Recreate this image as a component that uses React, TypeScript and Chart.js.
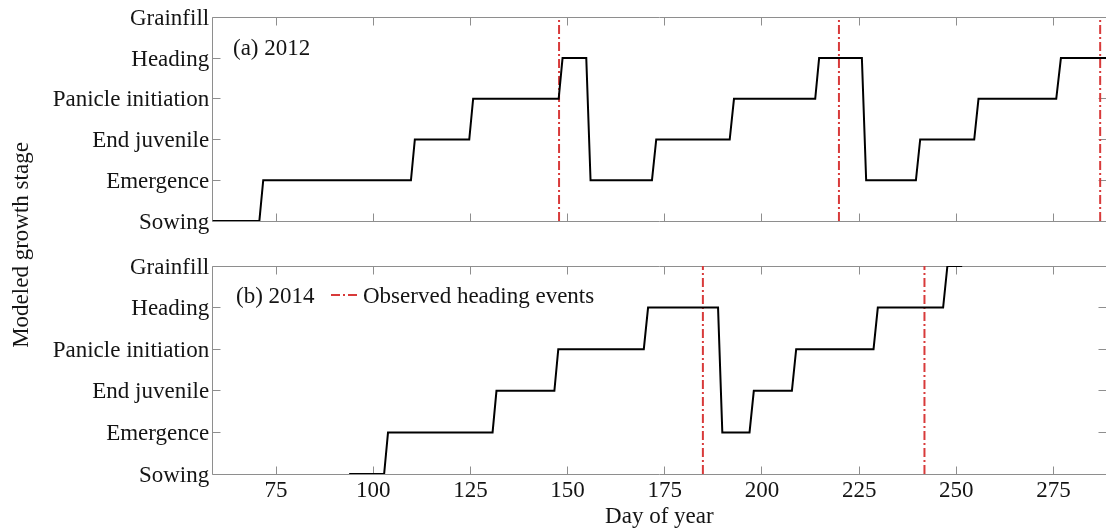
import React, { useEffect, useRef } from "react";
import { Chart, registerables } from "chart.js";

Chart.register(...registerables);

// Growth stage names, bottom to top
const stageLabels = ["Sowing", "Emergence", "End juvenile", "Panicle initiation", "Heading", "Grainfill"];
const xTickValues = [75, 100, 125, 150, 175, 200, 225, 250, 275];

// 2012 modeled stage trajectory (corner points of the stepped line)
const days2012 = [55, 70.7, 71.7, 109.7, 110.7, 124.7, 125.7, 147.7, 148.7, 154.8, 155.9, 171.7, 172.8, 191.7, 192.8, 213.7, 214.7, 225.7, 226.8, 239.6, 240.7, 254.6, 255.7, 275.7, 276.9, 292];
const stages2012 = [0, 0, 1, 1, 2, 2, 3, 3, 4, 4, 1, 1, 2, 2, 3, 3, 4, 4, 1, 1, 2, 2, 3, 3, 4, 4];
const observedHeading2012 = [147.8, 219.8, 287.0];

// 2014 modeled stage trajectory
const days2014 = [93.8, 102.8, 103.8, 130.7, 131.7, 146.6, 147.6, 169.6, 170.7, 188.7, 189.8, 196.8, 197.9, 207.7, 208.8, 228.7, 229.8, 246.6, 247.7, 251.5];
const stages2014 = [0, 0, 1, 1, 2, 2, 3, 3, 4, 4, 1, 1, 2, 2, 3, 3, 4, 4, 5, 5];
const observedHeading2014 = [184.8, 241.8];

const X_MIN = 58.7;
const X_MAX = 288.5;
const W = 1106;
const H = 532;
const FONT_FAMILY = "'Liberation Serif', 'Times New Roman', serif";
const FONT_SIZE = 23;
const TEXT = "#141414";
const AXIS = "#8e8e8e";
const RED = "#d83a3a";
const DASH_DOT = [9, 3, 2, 3];
const TICK_LEN = 8;

const toPoints = (xs: number[], ys: number[]) => xs.map((x, i) => ({ x, y: ys[i] }));

function buildDatasets(days: number[], stages: number[], heading: number[]) {
  const sets: any[] = [
    {
      data: toPoints(days, stages),
      borderColor: "#000",
      borderWidth: 2,
      pointRadius: 0,
      tension: 0,
      fill: false,
    },
  ];
  heading.forEach((d) => {
    sets.push({
      data: [
        { x: d, y: 0 },
        { x: d, y: stageLabels.length - 1 },
      ],
      borderColor: RED,
      borderWidth: 2,
      borderDash: DASH_DOT,
      pointRadius: 0,
      fill: false,
    });
  });
  return sets;
}

// Box around the panel with inward tick marks on all four sides
const framePlugin = {
  id: "frame",
  beforeDatasetsDraw(chart: any) {
    const { ctx, chartArea: a, scales } = chart;
    const xs = scales.x;
    const ys = scales.y;
    const L = Math.floor(a.left) + 0.5;
    const R = Math.floor(a.right) + 0.5;
    const T = Math.floor(a.top) + 0.5;
    const B = Math.floor(a.bottom) + 0.5;
    ctx.save();
    ctx.strokeStyle = AXIS;
    ctx.lineWidth = 1;
    ctx.beginPath();
    ctx.moveTo(R, T);
    ctx.lineTo(L, T);
    ctx.lineTo(L, B);
    ctx.lineTo(R, B);
    ctx.lineTo(R, T);
    xTickValues.forEach((v) => {
      const px = Math.floor(xs.getPixelForValue(v)) + 0.5;
      ctx.moveTo(px, T);
      ctx.lineTo(px, T + TICK_LEN);
      ctx.moveTo(px, B);
      ctx.lineTo(px, B - TICK_LEN);
    });
    stageLabels.forEach((_, i) => {
      const py = Math.floor(ys.getPixelForValue(i)) + 0.5;
      ctx.moveTo(L, py);
      ctx.lineTo(L + TICK_LEN, py);
      ctx.moveTo(R, py);
      ctx.lineTo(R - TICK_LEN, py);
    });
    ctx.stroke();
    ctx.restore();
  },
};

function font() {
  return `${FONT_SIZE}px ${FONT_FAMILY}`;
}

const panelA = {
  id: "panelA",
  afterDraw(chart: any) {
    const { ctx } = chart;
    ctx.save();
    ctx.font = font();
    ctx.fillStyle = TEXT;
    ctx.textBaseline = "alphabetic";
    ctx.textAlign = "left";
    ctx.fillText("(a) 2012", 233, 55);
    ctx.restore();
  },
};

const panelB = {
  id: "panelB",
  afterDraw(chart: any) {
    const { ctx } = chart;
    ctx.save();
    ctx.font = font();
    ctx.fillStyle = TEXT;
    ctx.textBaseline = "alphabetic";
    ctx.textAlign = "left";
    ctx.fillText("(b) 2014", 236, 303);
    // legend entry
    ctx.strokeStyle = RED;
    ctx.lineWidth = 2;
    ctx.setLineDash(DASH_DOT);
    ctx.beginPath();
    ctx.moveTo(331, 295);
    ctx.lineTo(359, 295);
    ctx.stroke();
    ctx.setLineDash([]);
    ctx.fillText("Observed heading events", 363, 303);
    // shared y-axis title
    ctx.translate(28, 245);
    ctx.rotate(-Math.PI / 2);
    ctx.textAlign = "center";
    ctx.fillText("Modeled growth stage", 0, 0);
    ctx.restore();
  },
};

function yScale() {
  return {
    type: "linear",
    min: 0,
    max: stageLabels.length - 1,
    afterFit: (s: any) => {
      s.width = 212.7;
    },
    afterBuildTicks: (s: any) => {
      s.ticks = stageLabels.map((_, i) => ({ value: i }));
    },
    grid: { display: false, drawTicks: false },
    border: { display: false },
    ticks: {
      autoSkip: false,
      padding: 3.5,
      labelOffset: 1.5,
      color: TEXT,
      font: { family: FONT_FAMILY, size: FONT_SIZE },
      callback: (v: any) => stageLabels[Math.round(Number(v))],
    },
  };
}

function baseOptions() {
  return {
    responsive: false,
    animation: false,
    devicePixelRatio: 1,
    events: [],
    plugins: { legend: { display: false }, tooltip: { enabled: false } },
  };
}

export default function App() {
  const topRef = useRef<HTMLCanvasElement | null>(null);
  const bottomRef = useRef<HTMLCanvasElement | null>(null);

  useEffect(() => {
    const top = new Chart(topRef.current as HTMLCanvasElement, {
      type: "line",
      data: { datasets: buildDatasets(days2012, stages2012, observedHeading2012) },
      options: {
        ...baseOptions(),
        layout: { padding: { top: 16.7, bottom: H - 221, left: 0, right: 0 } },
        scales: {
          x: { type: "linear", min: X_MIN, max: X_MAX, display: false },
          y: yScale(),
        },
      } as any,
      plugins: [framePlugin, panelA],
    });

    const bottom = new Chart(bottomRef.current as HTMLCanvasElement, {
      type: "line",
      data: { datasets: buildDatasets(days2014, stages2014, observedHeading2014) },
      options: {
        ...baseOptions(),
        layout: { padding: { top: 266, bottom: 0, left: 0, right: 0 } },
        scales: {
          x: {
            type: "linear",
            min: X_MIN,
            max: X_MAX,
            afterFit: (s: any) => {
              s.height = H - 474;
            },
            afterBuildTicks: (s: any) => {
              s.ticks = xTickValues.map((v) => ({ value: v }));
            },
            grid: { display: false, drawTicks: false },
            border: { display: false },
            ticks: {
              autoSkip: false,
              maxRotation: 0,
              padding: 3,
              color: TEXT,
              font: { family: FONT_FAMILY, size: FONT_SIZE },
            },
            title: {
              display: true,
              text: "Day of year",
              color: TEXT,
              font: { family: FONT_FAMILY, size: FONT_SIZE },
              padding: { top: 0, bottom: 1 },
            },
          },
          y: yScale(),
        },
      } as any,
      plugins: [framePlugin, panelB],
    });

    return () => {
      top.destroy();
      bottom.destroy();
    };
  }, []);

  const canvasStyle: React.CSSProperties = {
    position: "absolute",
    left: 0,
    top: 0,
    width: W,
    height: H,
  };

  return (
    <div style={{ position: "fixed", left: 0, top: 0, width: W, height: H, background: "#fff" }}>
      <canvas ref={bottomRef} width={W} height={H} style={canvasStyle} />
      <canvas ref={topRef} width={W} height={H} style={canvasStyle} />
    </div>
  );
}
